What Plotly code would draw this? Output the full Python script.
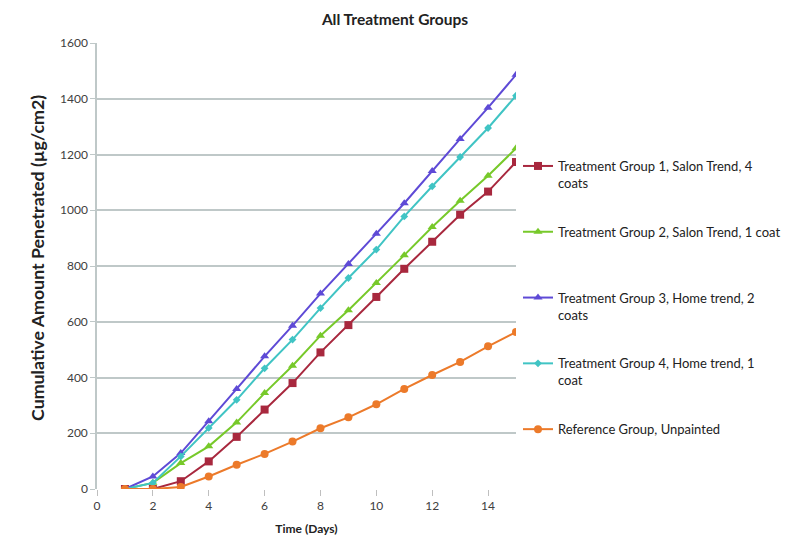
import plotly.graph_objects as go

days = list(range(1, 16))
g1 = [0, 0, 28, 99, 187, 285, 380, 490, 588, 689, 790, 887, 984, 1067, 1173]
g2 = [0, 22, 93, 153, 239, 344, 442, 550, 641, 739, 839, 940, 1034, 1124, 1222]
g3 = [0, 45, 129, 243, 359, 476, 586, 701, 807, 916, 1025, 1141, 1256, 1368, 1486]
g4 = [0, 22, 117, 219, 320, 433, 536, 649, 757, 859, 978, 1086, 1191, 1295, 1411]
ref = [0, 0, 7, 45, 87, 126, 170, 218, 257, 304, 359, 409, 456, 512, 563]

names = [
    "Treatment Group 1, Salon Trend, 4<br>coats",
    "Treatment Group 2, Salon Trend, 1 coat<br> ",
    "Treatment Group 3, Home trend, 2<br>coats",
    "Treatment Group 4, Home trend, 1<br>coat",
    "Reference Group, Unpainted<br> ",
]
series = [g1, g2, g3, g4, ref]
colors = ["#A8283E", "#77C92A", "#5E4AD6", "#40C4C4", "#EC7A2A"]
symbols = ["square", "triangle-up", "triangle-up", "diamond", "circle"]
sizes = [8, 8, 8, 6, 8]

fig = go.Figure()
for i, (nm, ys) in enumerate(zip(names, series)):
    fig.add_trace(go.Scatter(
        x=days, y=ys, name=nm, mode="lines+markers",
        line=dict(color=colors[i], width=2),
        marker=dict(symbol=symbols[i], size=sizes[i], color=colors[i]),
        legendgroup=f"g{i}",
    ))

# page has an 8px body margin; the figure is sized to fit the 792x538 window
OFF = 8
W, H = 792 - OFF, 538 - OFF
L, R, T, B = 97, 516, 43, 489  # plot area in window pixels
font = "Lato, Arial"
fig.update_layout(
    template="none",
    width=W, height=H,
    margin=dict(l=L - OFF, r=792 - R, t=T - OFF, b=538 - B, autoexpand=False),
    plot_bgcolor="white", paper_bgcolor="white",
    font=dict(family=font, size=12, color="#404040"),
    title=dict(text="<b>All Treatment Groups</b>", x=(395 - OFF) / W, xanchor="center",
               y=1 - (20 - OFF) / H, yanchor="middle", font=dict(size=15.5, color="#222")),
    xaxis=dict(range=[0, 15], tickvals=[0, 2, 4, 6, 8, 10, 12, 14],
               showgrid=False, zeroline=False, showline=False, automargin=False,
               ticks="outside", ticklen=6, tickcolor="#BFBFBF",
               tickfont=dict(size=12, color="#404040"),
               title=dict(text="<b>Time (Days)</b>", font=dict(size=12, color="#222"), standoff=12)),
    yaxis=dict(range=[0, 1600], dtick=200, showgrid=True, gridcolor="#BFC8C8", gridwidth=1.5,
               zeroline=False, showline=True, linecolor="#BFC8C8", linewidth=1.5,
               automargin=False,
               ticks="outside", ticklen=5, tickcolor="#BFC8C8",
               tickfont=dict(size=12, color="#404040")),
    legend=dict(x=(518 - L) / (R - L), xanchor="left", y=(B - 166 + 15) / (B - T), yanchor="top",
                valign="top", tracegroupgap=29, font=dict(size=13, color="#222"),
                bgcolor="rgba(0,0,0,0)", borderwidth=0),
    showlegend=True,
)
fig.add_annotation(text="<b>Cumulative Amount Penetrated (µg/cm2)</b>", textangle=-90,
                   xref="paper", yref="paper", x=-(L - 37) / (R - L), y=(B - 258) / (B - T),
                   showarrow=False, font=dict(size=17.8, color="#222"),
                   xanchor="center", yanchor="middle")

fig.write_html("out.html")
